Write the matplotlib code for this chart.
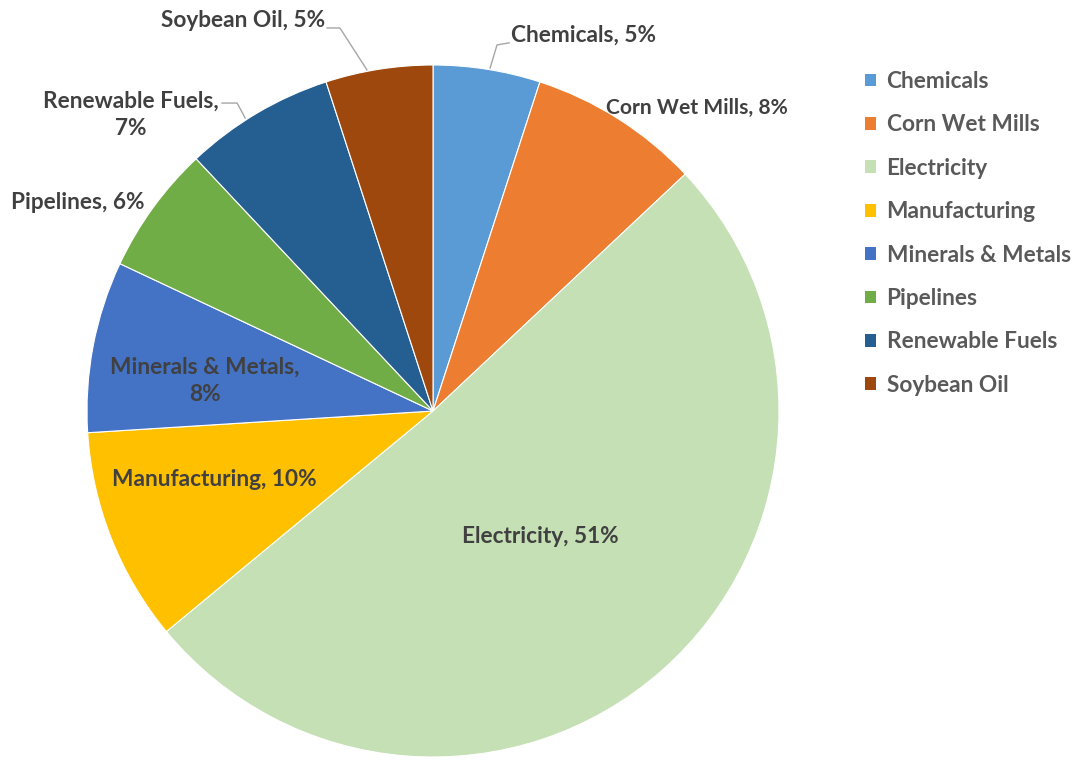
import matplotlib
matplotlib.use("Agg")
import matplotlib.pyplot as plt

categories = ["Chemicals", "Corn Wet Mills", "Electricity", "Manufacturing",
              "Minerals & Metals", "Pipelines", "Renewable Fuels", "Soybean Oil"]
values = [5, 8, 51, 10, 8, 6, 7, 5]
colors = ["#5B9BD5", "#ED7D31", "#C5E0B4", "#FFC000",
          "#4472C4", "#70AD47", "#255E91", "#9E480E"]

# label text positions (in pie-radius units) and line breaks
label_pos = {
    "Chemicals": (0.436, 1.087),
    "Corn Wet Mills": (0.763, 0.876),
    "Electricity": (0.309, -0.364),
    "Manufacturing": (-0.633, -0.197),
    "Minerals & Metals": (-0.659, 0.087),
    "Pipelines": (-1.026, 0.604),
    "Renewable Fuels": (-0.873, 0.855),
    "Soybean Oil": (-0.549, 1.130),
}
two_line = {"Minerals & Metals", "Renewable Fuels"}
leaders = {
    "Chemicals": [(0.165, 0.991), (0.185, 1.058), (0.220, 1.064)],
    "Soybean Oil": [(-0.191, 0.986), (-0.269, 1.107), (-0.306, 1.107)],
    "Renewable Fuels": [(-0.543, 0.847), (-0.566, 0.890), (-0.610, 0.890)],
}

W, H = 1084, 761
fig = plt.figure(figsize=(W / 100, H / 100), dpi=100)
cx, cy, R = 433, 411, 346
ax = fig.add_axes([(cx - R) / W, (H - cy - R) / H, 2 * R / W, 2 * R / H])
ax.axis("off")

wedges, _ = ax.pie(values, colors=colors, startangle=90, counterclock=False,
                   radius=1, wedgeprops=dict(edgecolor="white", linewidth=0.8))
ax.set_xlim(-1, 1)
ax.set_ylim(-1, 1)
ax.set_aspect("auto")

font = "Lato"
txtcol = "#404040"
fs = 16.3
for cat, v in zip(categories, values):
    sep = ",\n" if cat in two_line else ", "
    x, y = label_pos[cat]
    ax.text(x, y, f"{cat}{sep}{v}%", ha="center", va="center",
            fontsize=fs * (0.93 if cat == "Corn Wet Mills" else 1.0),
            fontweight="bold", color=txtcol, family=font, linespacing=1.38,
            clip_on=False)
for cat, pts in leaders.items():
    xs = [p[0] for p in pts]
    ys = [p[1] for p in pts]
    ax.plot(xs, ys, color="#A6A6A6", lw=1, clip_on=False)

leg = fig.legend(wedges, categories, loc="upper left",
                 bbox_to_anchor=(865 / W, 1 - 71 / H), frameon=False,
                 prop=dict(family=font, weight="bold", size=fs),
                 labelcolor="#595959", handlelength=0.5, handleheight=0.5,
                 handletextpad=0.45, labelspacing=0.99, borderpad=0,
                 borderaxespad=0)
for h in leg.legend_handles:
    h.set_edgecolor("none")

fig.savefig("out.png", dpi=100)
